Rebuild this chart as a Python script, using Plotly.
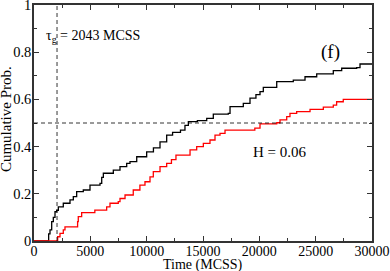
import plotly.graph_objects as go

black_x = [0, 1150, 1300, 1420, 1570, 1715, 1864, 2012, 2160, 2600, 3195, 3490, 3787, 4376, 4970, 5860, 6010, 6154,
           7040, 7633, 8228, 8520, 9117, 10000, 10600, 11184, 11776, 12300, 13000, 13400, 13700, 14500, 15330,
           15915, 17246, 17400, 18578, 19172, 19700, 20060, 20353, 21543, 23015, 24055, 25093, 26566, 27310,
           28640, 28935, 30000]
black_y = [0, 0, 0.03, 0.047, 0.082, 0.10, 0.124, 0.13, 0.145, 0.16, 0.174, 0.188, 0.209, 0.216, 0.237, 0.244, 0.27, 0.287,
           0.30, 0.315, 0.329, 0.336, 0.357, 0.378, 0.395, 0.42, 0.449, 0.46, 0.47, 0.49, 0.506, 0.51, 0.52,
           0.538, 0.541, 0.569, 0.583, 0.605, 0.62, 0.633, 0.651, 0.675, 0.682, 0.696, 0.708, 0.722, 0.732,
           0.735, 0.75, 0.75]

red_x = [0, 1950, 2100, 2308, 2600, 2750, 3787, 3870, 3930, 4230, 5260, 5400, 6300, 6450, 6745, 7480, 7633, 8080,
         8810, 9400, 9850, 10296, 10590, 11184, 11776, 12200, 12600, 13850, 14440, 15030, 15620, 16066, 16510,
         16954, 19320, 19600, 20060, 21543, 21835, 22430, 22720, 23315, 24500, 25680, 26566, 26860, 27450, 30000]
red_y = [0, 0, 0.018, 0.032, 0.047, 0.06, 0.06, 0.082, 0.103, 0.12, 0.12, 0.131, 0.131, 0.145, 0.16, 0.167, 0.18, 0.195,
         0.216, 0.237, 0.251, 0.272, 0.294, 0.315, 0.329, 0.345, 0.364, 0.386, 0.40, 0.414, 0.428, 0.449, 0.456,
         0.47, 0.47, 0.478, 0.496, 0.501, 0.513, 0.527, 0.541, 0.548, 0.558, 0.567, 0.576, 0.59, 0.60, 0.60]

tau_g = 2043
half = 0.5
x_ticks = [0, 5000, 10000, 15000, 20000, 25000, 30000]
y_ticks = [0, 0.2, 0.4, 0.6, 0.8, 1]
y_tick_labels = ["0", "0.2", "0.4", "0.6", "0.8", "1"]

FONT = "Liberation Serif"

fig = go.Figure()
fig.add_trace(go.Scatter(x=black_x, y=black_y, mode="lines", line=dict(color="black", width=1.3, shape="hv"),
                         showlegend=False))
fig.add_trace(go.Scatter(x=red_x, y=red_y, mode="lines", line=dict(color="red", width=1.3, shape="hv"),
                         showlegend=False))

fig.add_shape(type="line", x0=tau_g, x1=tau_g, y0=0, y1=1, xref="x", yref="y",
              line=dict(color="black", width=0.8, dash="4px,3px"))
fig.add_shape(type="line", x0=0, x1=30000, y0=half, y1=half, xref="x", yref="y",
              line=dict(color="black", width=0.8, dash="4px,3px"))

fig.add_annotation(x=900, y=0.865, xref="x", yref="y", text="τ<sub>g</sub> = 2043 MCSS", showarrow=False,
                   xanchor="left", yanchor="middle", font=dict(family=FONT, size=14, color="black"))
fig.add_annotation(x=26360, y=0.80, xref="x", yref="y", text="(f)", showarrow=False,
                   xanchor="center", yanchor="middle", font=dict(family=FONT, size=19, color="black"))
fig.add_annotation(x=21835, y=0.377, xref="x", yref="y", text="H = 0.06", showarrow=False,
                   xanchor="center", yanchor="middle", font=dict(family=FONT, size=15, color="black"))

# axis titles
fig.add_annotation(x=-0.081, y=0.515, xref="paper", yref="paper", text="Cumulative Prob.", showarrow=False,
                   textangle=-90, xanchor="center", yanchor="middle", font=dict(family=FONT, size=15, color="black"))
fig.add_annotation(x=0.5, y=-0.1, xref="paper", yref="paper", text="Time (MCSS)", showarrow=False,
                   xanchor="center", yanchor="middle", font=dict(family=FONT, size=14, color="black"))

axis_common = dict(showgrid=False, zeroline=False, showline=True, linecolor="#333", linewidth=1.5,
                   mirror="ticks", ticks="inside", ticklen=5, tickwidth=1, tickcolor="#333",
                   automargin=False, ticklabeloverflow="allow")

fig.update_xaxes(range=[0, 30000], tickvals=x_ticks, ticktext=[str(v) for v in x_ticks],
                 minor=dict(dtick=2500, ticks="inside", ticklen=3, tickcolor="#333"),
                 tickfont=dict(family=FONT, size=14, color="black"),
                 ticklabelstandoff=-4, **axis_common)
fig.update_yaxes(range=[0, 1], tickvals=y_ticks, ticktext=y_tick_labels,
                 minor=dict(dtick=0.1, ticks="inside", ticklen=3, tickcolor="#333"),
                 tickfont=dict(family=FONT, size=14.5, color="black"),
                 ticklabelstandoff=-2, **axis_common)

fig.update_layout(width=390, height=271, margin=dict(l=34, r=18, t=5, b=30),
                  plot_bgcolor="white", paper_bgcolor="white")

fig.write_html("out.html", config={"displayModeBar": False},
               post_script="document.body.style.margin='0px';document.body.style.padding='0px';")
